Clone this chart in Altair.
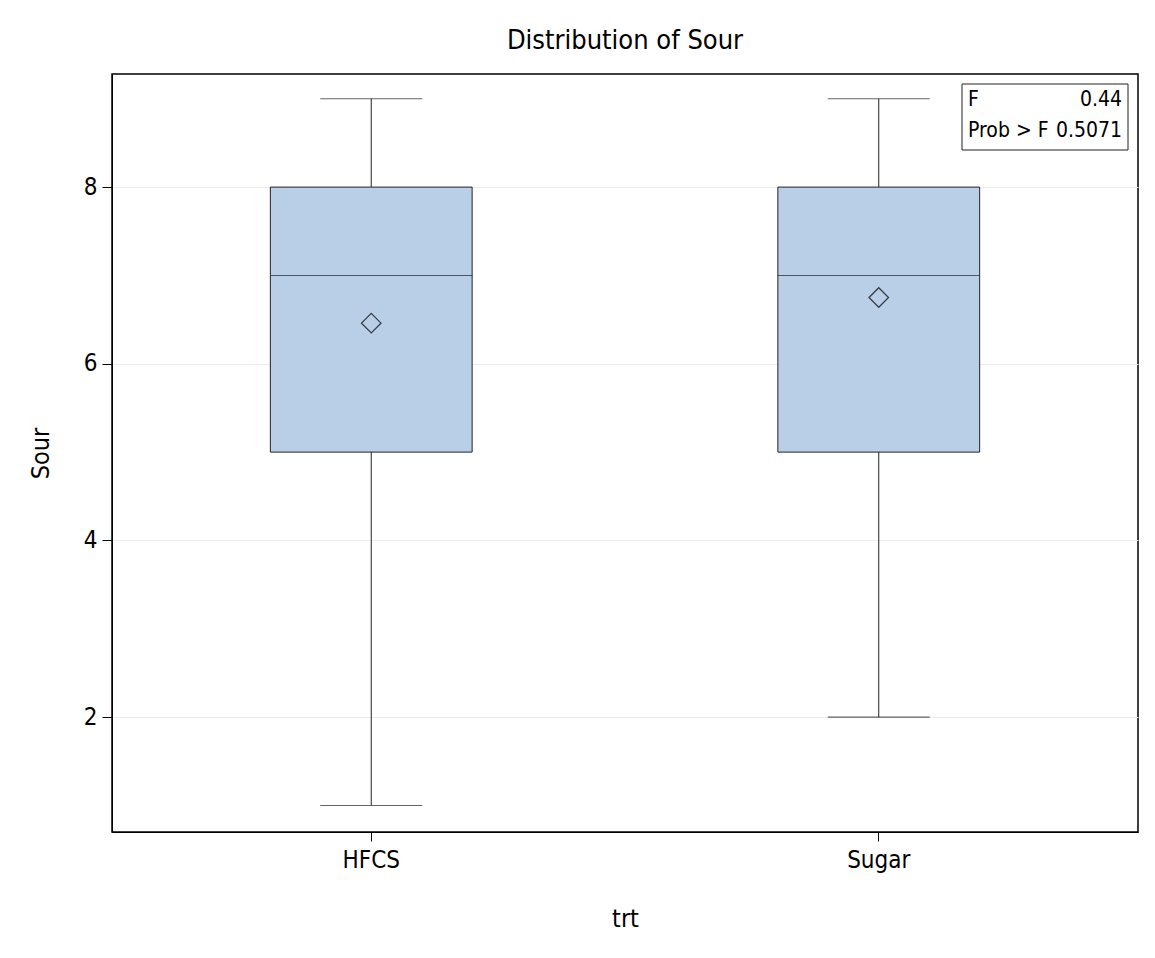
import altair as alt
import pandas as pd

# Box-plot summary of Sour ratings by treatment
trt = ["HFCS", "Sugar"]
minimum = [1, 2]
q1 = [5, 5]
median = [7, 7]
q3 = [8, 8]
maximum = [9, 9]
mean = [6.46, 6.75]

# ANOVA results shown in the inset table
stat_labels = ["F", "Prob > F"]
stat_values = ["0.44", "0.5071"]

FONT = "DejaVu Sans Condensed, Liberation Sans, Arial, sans-serif"
FILL = "#b9cfe7"
INK = "#222222"

df = pd.DataFrame({"trt": trt, "min": minimum, "q1": q1, "median": median,
                   "q3": q3, "max": maximum, "mean": mean})
stats = pd.DataFrame({"label": stat_labels, "value": stat_values, "row": [0, 1]})

W, H = 1026, 758
BOX_W = 202

x = alt.X("trt:N", title="trt",
          scale=alt.Scale(paddingInner=0.6024, paddingOuter=0.312),
          axis=alt.Axis(labelAngle=0, labelFontSize=24, titleFontSize=25,
                        labelPadding=7, tickSize=9, titleX=W / 2, titleY=86,
                        titleBaseline="middle", grid=False))
yscale = alt.Scale(domain=[0.7, 9.28], nice=False, zero=False)
yaxis = alt.Axis(values=[2, 4, 6, 8], format="d", labelFontSize=24,
                 titleFontSize=25, tickSize=10, labelPadding=5, grid=True,
                 gridColor="#ececec", titleX=-72, titleY=H / 2,
                 titleBaseline="middle")

base = alt.Chart(df)

whisker = base.mark_rule(color=INK, strokeWidth=1).encode(
    x=x,
    y=alt.Y("min:Q", scale=yscale, axis=yaxis, title="Sour"),
    y2="max:Q",
)
box = base.mark_bar(color=FILL, stroke=INK, strokeWidth=1).encode(
    x=x, y=alt.Y("q1:Q"), y2="q3:Q"
)
med = base.mark_tick(color=INK, thickness=1, size=BOX_W).encode(
    x=x, y=alt.Y("median:Q")
)
cap_lo = base.mark_tick(color=INK, thickness=1.2, size=102).encode(
    x=x, y=alt.Y("min:Q")
)
cap_hi = base.mark_tick(color=INK, thickness=1.2, size=102).encode(
    x=x, y=alt.Y("max:Q")
)
avg = base.mark_point(shape="diamond", size=380, filled=False, color="black",
                      strokeWidth=1.3).encode(
    x=x, y=alt.Y("mean:Q")
)

# Inset statistics table in the upper-right corner
inset_frame = alt.Chart(pd.DataFrame({"k": [0]})).mark_rect(
    fill="white", stroke=INK, strokeWidth=1
).encode(x=alt.value(850), x2=alt.value(1016), y=alt.value(10), y2=alt.value(76))

inset_layers = [inset_frame]
for i, row_y in enumerate([26, 57]):
    rows = alt.Chart(stats).transform_filter(alt.datum.row == i)
    inset_layers.append(rows.mark_text(
        align="left", baseline="middle", fontSize=21, font=FONT, color="black"
    ).encode(x=alt.value(856), y=alt.value(row_y), text="label:N"))
    inset_layers.append(rows.mark_text(
        align="right", baseline="middle", fontSize=21, font=FONT, color="black"
    ).encode(x=alt.value(1010), y=alt.value(row_y), text="value:N"))

chart = alt.layer(
    whisker, box, med, cap_lo, cap_hi, avg, *inset_layers
).properties(
    width=W, height=H,
    autosize=alt.AutoSizeParams(type="none"),
    padding={"left": 112, "top": 74, "right": 17, "bottom": 126},
    title=alt.Title("Distribution of Sour", fontSize=27, fontWeight="normal",
                    font=FONT, offset=19, anchor="middle"),
).configure(
    font=FONT,
).configure_view(
    stroke="black", strokeWidth=1.5
).configure_axis(
    labelFont=FONT, titleFont=FONT, labelColor="black", titleColor="black",
    titleFontWeight="normal", domainColor="black", tickColor="black",
)

chart.save("out.html", embed_options={"renderer": "svg", "actions": False})
